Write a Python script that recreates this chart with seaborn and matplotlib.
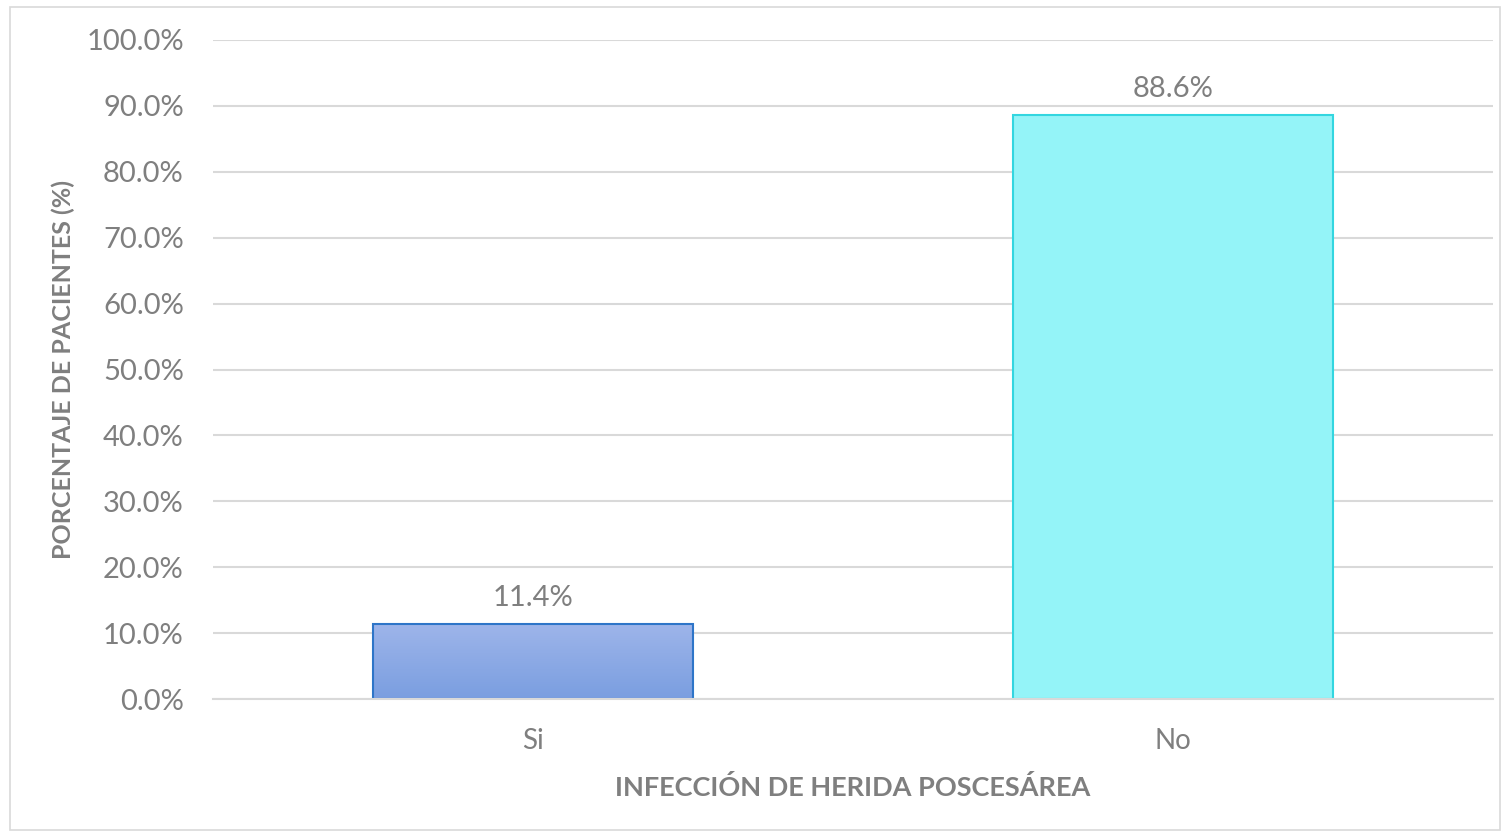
import matplotlib
matplotlib.use("Agg")
import matplotlib.pyplot as plt
import seaborn as sns
import numpy as np
import pandas as pd
from matplotlib.ticker import FuncFormatter, FixedLocator
from matplotlib.patches import Rectangle
from matplotlib.colors import LinearSegmentedColormap

categories = ["Si", "No"]
values = [11.4, 88.6]
yticks = [0, 10, 20, 30, 40, 50, 60, 70, 80, 90, 100]

sns.set_theme(style="white")
plt.rcParams['font.family'] = ['Lato', 'DejaVu Sans']

gray = "#7f7f7f"
df = pd.DataFrame({"cat": categories, "val": values})

fig = plt.figure(figsize=(15.05, 8.35), dpi=100)
ax = fig.add_axes([213/1505, 1-699/835, 1280/1505, 659/835])

sns.barplot(data=df, x="cat", y="val", ax=ax, width=0.5,
            palette=["#8AA9E5", "#94F4F8"], hue="cat", legend=False, saturation=1)

edges = ["#2E75C8", "#33D6E0"]
for p, ec in zip(ax.patches, edges):
    p.set_edgecolor(ec)
    p.set_linewidth(1.5)
    p.set_zorder(3)

# gradient for first bar
p0 = ax.patches[0]
x0, y0 = p0.get_x(), p0.get_y()
w, h = p0.get_width(), p0.get_height()
cmap = LinearSegmentedColormap.from_list("g", ["#7A9EE0", "#9EB5EA"])
grad = np.linspace(0, 1, 256).reshape(-1, 1)
im = ax.imshow(grad, cmap=cmap, origin="lower", extent=[x0, x0+w, y0, y0+h],
               aspect="auto", zorder=3.5, interpolation="bicubic")
im.set_clip_path(p0)
p0.set_facecolor("none")
p0.set_zorder(4)

ax.set_xlim(-0.5, 1.5)
ax.set_ylim(0, 100)
ax.yaxis.set_major_locator(FixedLocator(yticks))
ax.yaxis.set_major_formatter(FuncFormatter(lambda v, _: f"{v:.1f}%"))
ax.grid(axis="y", color="#d9d9d9", linewidth=1.5, zorder=0)
ax.set_axisbelow(True)

for s in ["top", "right", "left"]:
    ax.spines[s].set_visible(False)
ax.spines["bottom"].set_color("#d9d9d9")
ax.spines["bottom"].set_linewidth(1.5)
ax.spines["bottom"].set_zorder(5)

ax.tick_params(axis="y", length=0, labelsize=21, labelcolor=gray, pad=21)
ax.tick_params(axis="x", which="major", length=0, labelsize=20, labelcolor=gray, pad=21)
ax.xaxis.set_minor_locator(FixedLocator([-0.5, 0.5, 1.5]))
ax.tick_params(axis="x", which="minor", direction="inout", length=14, width=1.5, color="#d9d9d9")

for i, v in enumerate(values):
    ax.text(i, v + 2.0, f"{v:.1f}%", ha="center", va="bottom", fontsize=21, color=gray)

ax.set_xlabel("INFECCIÓN DE HERIDA POSCESÁREA", fontsize=19.5, fontweight="bold", color=gray, labelpad=15)
ax.set_ylabel("PORCENTAJE DE PACIENTES (%)", fontsize=18, fontweight="bold", color=gray, labelpad=8)

fig.patches.append(Rectangle((10/1505, 1-830/835), 1490/1505, 823/835, transform=fig.transFigure,
                             fill=False, edgecolor="#d9d9d9", linewidth=1.2))

fig.savefig("out.png", dpi=100)
